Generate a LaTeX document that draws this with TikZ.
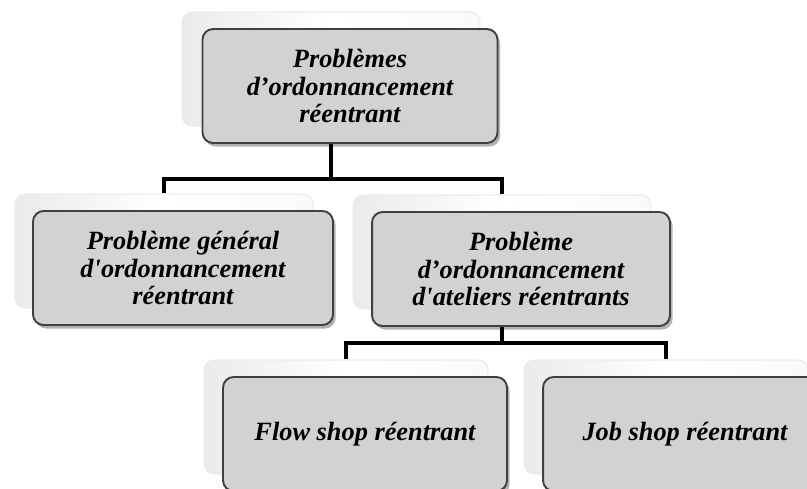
\documentclass[tikz,border=0pt]{standalone}
\usepackage{fontspec}
\setmainfont{Liberation Serif}[Ligatures=TeXOff]
\usetikzlibrary{calc,shadows}

\tikzset{
  mainbox/.style={draw=black!75, line width=1.1pt, fill=gray!35, rounded corners=6pt,
    minimum height=2.28cm, inner sep=0pt, align=center,
    font=\fontsize{15}{15.5}\selectfont\bfseries\itshape,
    drop shadow={shadow xshift=1.5pt, shadow yshift=-2pt, opacity=0.3, fill=black}},
  ghostbox/.style={draw=gray!15, line width=0.8pt, rounded corners=6pt,
    left color=gray!16, right color=gray!4, middle color=white,
    minimum height=2.28cm, inner sep=0pt},
  link/.style={line width=2.4pt, draw=black}
}

\begin{document}
\begin{tikzpicture}[x=0.02cm, y=-0.02cm]
% the figure is laid out in pixels of the original (y going down)
\useasboundingbox (0,0) rectangle (807,488);
\clip (0,0) rectangle (807,488);

% centres of the front boxes
\coordinate (root)     at (350, 86);
\coordinate (general)  at (183, 268);
\coordinate (ateliers) at (521, 269);
\coordinate (flow)     at (365, 434);
\coordinate (job)      at (685, 434);

% forks of the connectors
\coordinate (fork1) at (333, 179);
\coordinate (fork2) at (500, 343);

% back boxes (shifted up and left)
\node[ghostbox, minimum width=5.96cm] (root back)     at ([shift={(-19,-17)}] root) {};
\node[ghostbox, minimum width=5.96cm] (general back)  at ([shift={(-19,-17)}] general) {};
\node[ghostbox, minimum width=5.96cm] (ateliers back) at ([shift={(-19,-17)}] ateliers) {};
\node[ghostbox, minimum width=5.68cm] (flow back)     at ([shift={(-19,-17)}] flow) {};
\node[ghostbox, minimum width=5.68cm] (job back)      at ([shift={(-19,-17)}] job) {};

% connectors
\draw[link] (root back.south) -- (root back.south |- fork1);
\draw[link] (general back.north) |- (fork1) -| (ateliers back.north);
\draw[link] (ateliers back.south) -- (ateliers back.south |- fork2);
\draw[link] (flow back.north) |- (fork2) -| (job back.north);

% front boxes
\node[mainbox, minimum width=5.9cm] (root box) at (root)
  {Problèmes\\d’ordonnancement\\réentrant};
\node[mainbox, minimum width=6.0cm] (general box) at (general)
  {Problème général\\d'ordonnancement\\réentrant};
\node[mainbox, minimum width=5.96cm] (ateliers box) at (ateliers)
  {Problème\\d’ordonnancement\\d'ateliers réentrants};
\node[mainbox, minimum width=5.68cm] (flow box) at (flow) {Flow shop réentrant};
\node[mainbox, minimum width=5.68cm] (job box) at (job) {Job shop réentrant};

\end{tikzpicture}
\end{document}
